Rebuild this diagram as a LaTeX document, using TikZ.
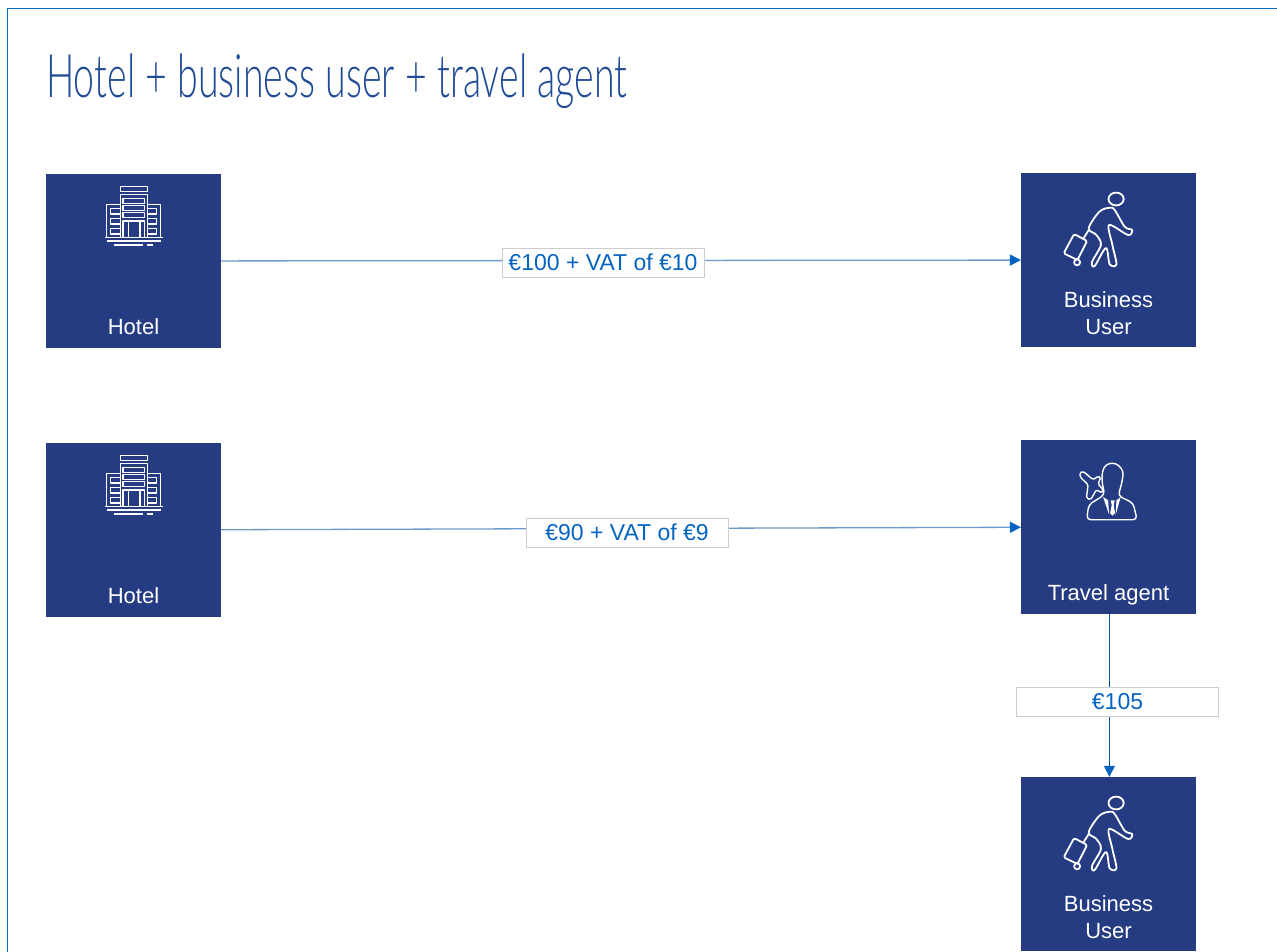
\documentclass[tikz,border=0pt]{standalone}
\usepackage{fontspec}
\setmainfont{Liberation Sans}
\newfontfamily\titlefont{Lato Light}
\usetikzlibrary{arrows.meta}
\definecolor{navy}{HTML}{253C82}
\definecolor{pricecol}{HTML}{0563C1}
\definecolor{framecol}{HTML}{0070C0}
\definecolor{titlecol}{HTML}{1F4A96}
\definecolor{flowcol}{HTML}{6C9BCB}
\tikzset{
  party/.style={fill=navy,minimum width=174.5pt,minimum height=174pt,inner sep=0pt},
  plate/.style={text=white,font=\fontsize{22}{27}\selectfont,align=center,inner sep=0pt},
  tag/.style={fill=white,draw=black!20,line width=.5pt,text=pricecol,minimum width=202pt,minimum height=29pt,inner sep=0pt,font=\fontsize{23}{26}\selectfont},
  flow/.style={draw=flowcol,line width=1.3pt,arrows={-{Triangle[length=11pt,width=11pt,color=pricecol]}}},
  icon/.style={draw=white,line width=1.4pt,line join=round},
  hotelicon/.pic={
    \begin{scope}[icon]
    \draw (-13.7,-28.7) rectangle (13.7,-23.3);
    \draw (-13.7,-20.7) rectangle (13.7,22.7);
    \draw (-11,-16.7) rectangle (10.7,-11.3);
    \draw (-11,-9.3) rectangle (10.7,-4.3);
    \draw (-11,-2.3) rectangle (10.7,2.3);
    \draw (-11,22.7) -- (-11,6) -- (10.7,6) -- (10.7,22.7);
    \draw (-5.7,6) -- (-5.7,22.7) (6,6) -- (6,22.7);
    \draw (-13.7,-10.7) -- (-27.3,-10.7) -- (-27.3,22.7);
    \draw (13.7,-10.7) -- (26.7,-10.7) -- (26.7,22.7);
    \foreach \winy in {-6.7,3.3,13.3} {
      \draw (-13.7,\winy) -- (-23.3,\winy) -- (-23.3,\winy+5.8) -- (-13.7,\winy+5.8);
      \draw (13.7,\winy) -- (22.7,\winy) -- (22.7,\winy+5.8) -- (13.7,\winy+5.8);
    }
    \draw (-28.7,22.7) -- (28.7,22.7);
    \draw (-26.7,26) -- (26.7,26);
    \draw (-20,30) -- (9.3,30) (12.7,30) -- (19.3,30);
    \end{scope}
  },
  walkericon/.pic={
    \begin{scope}[icon,line width=1.8pt]
    \draw (7.7,-61) ellipse (7.6 and 6.4);
    \draw plot[smooth cycle,tension=.55] coordinates {(1.3,-52.3) (-9,-48.3) (-19.7,-31.7) (-12,-25) (-7.5,-15) (-16.3,1.7) (-13.7,6) (-2.5,-12) (1.3,4.3) (8,4.3) (4,-15) (.7,-35) (19.7,-25) (23.7,-30) (16.3,-33.3) (6.3,-50)};
    \draw[rounded corners=1.5pt] (-34.3,-26) -- (-21.3,-19) -- (-31,0) -- (-44.7,-6.7) -- cycle;
    \draw (-31.3,2.3) circle (3);
    \draw (-25.3,-21) -- (-19.7,-30);
    \end{scope}
  },
  agenticon/.pic={
    \begin{scope}[icon]
    \draw[rounded corners=4pt] (-3.7,-32.3) -- (-6.3,-44) -- (-6.3,-55.7) -- (-2,-63.3) -- (8,-64) -- (15.3,-55.7) -- (13,-42.3) -- (9.7,-31.3) -- (24.7,-24) -- (28.7,-7.3) -- (-21.7,-7.3) -- (-19.7,-22.3) -- cycle;
    \fill[white] (-5.3,-30) -- (.7,-12.3) -- (-.3,-26.7) -- cycle;
    \fill[white] (12.3,-30) -- (7.3,-12.3) -- (8,-26.7) -- cycle;
    \fill[white] (2.3,-26.7) -- (6.3,-26.7) -- (5.3,-21.7) -- (6.7,-14) -- (4,-11.3) -- (1.7,-14) -- (3.3,-21.7) -- cycle;
    \draw[rounded corners=1.5pt,fill=navy] (-28.7,-54) -- (-25.3,-55.7) -- (-15.3,-47.3) -- (-10.3,-50.7) -- (-7.7,-49.7) -- (-10.3,-43) -- (-5.3,-37.3) -- (-6.3,-34) -- (-12,-37.3) -- (-17.7,-27.3) -- (-22,-29) -- (-20.3,-42.3) -- (-28,-49.7) -- cycle;
    \end{scope}
  },
}
\begin{document}
\begin{tikzpicture}[x=1pt,y=-1pt]
\useasboundingbox (0,0) rectangle (1277,951);
\draw[framecol,line width=1pt] (7.5,960) -- (7.5,8.5) -- (1290,8.5);
\node[anchor=west,text=titlecol,inner sep=0pt] (title) at (46,81) {\scalebox{.626}[1]{\titlefont\fontsize{60}{60}\selectfont Hotel + business user + travel agent}};
% the five parties
\node[party] (hotelA) at (133.5,261) {};
\node[party] (userA) at (1108.4,260) {};
\node[party] (hotelB) at (133.5,530) {};
\node[party] (agent) at (1108.4,527) {};
\node[party] (userB) at (1108.4,864) {};
\pic at (134,215) {hotelicon};
\pic at (134,484) {hotelicon};
\pic at (userA) {walkericon};
\pic at (agent) {agenticon};
\pic at (userB) {walkericon};
\node[plate] (hotelAname) at (133.5,327) {Hotel};
\node[plate] (hotelBname) at (133.5,596) {Hotel};
\node[plate] (userAname) at (1108.5,313) {Business\\User};
\node[plate] (agentname) at (1108.5,595) {Travel agent};
\node[plate] (userBname) at (1108.5,917) {Business\\User};
% money flows
\draw[flow] (hotelA) -- (userA);
\draw[flow] (hotelB) -- (agent);
\draw[flow,draw=pricecol!85!black,line width=1pt] ([xshift=1pt]agent.south) -- ([xshift=1pt]userB.north);
\node[tag] (priceA) at (603,262.5) {€100 + VAT of €10};
\node[tag] (priceB) at (627,532.5) {€90 + VAT of €9};
\node[tag] (priceC) at (1117.5,701.5) {€105};
\end{tikzpicture}
\end{document}
